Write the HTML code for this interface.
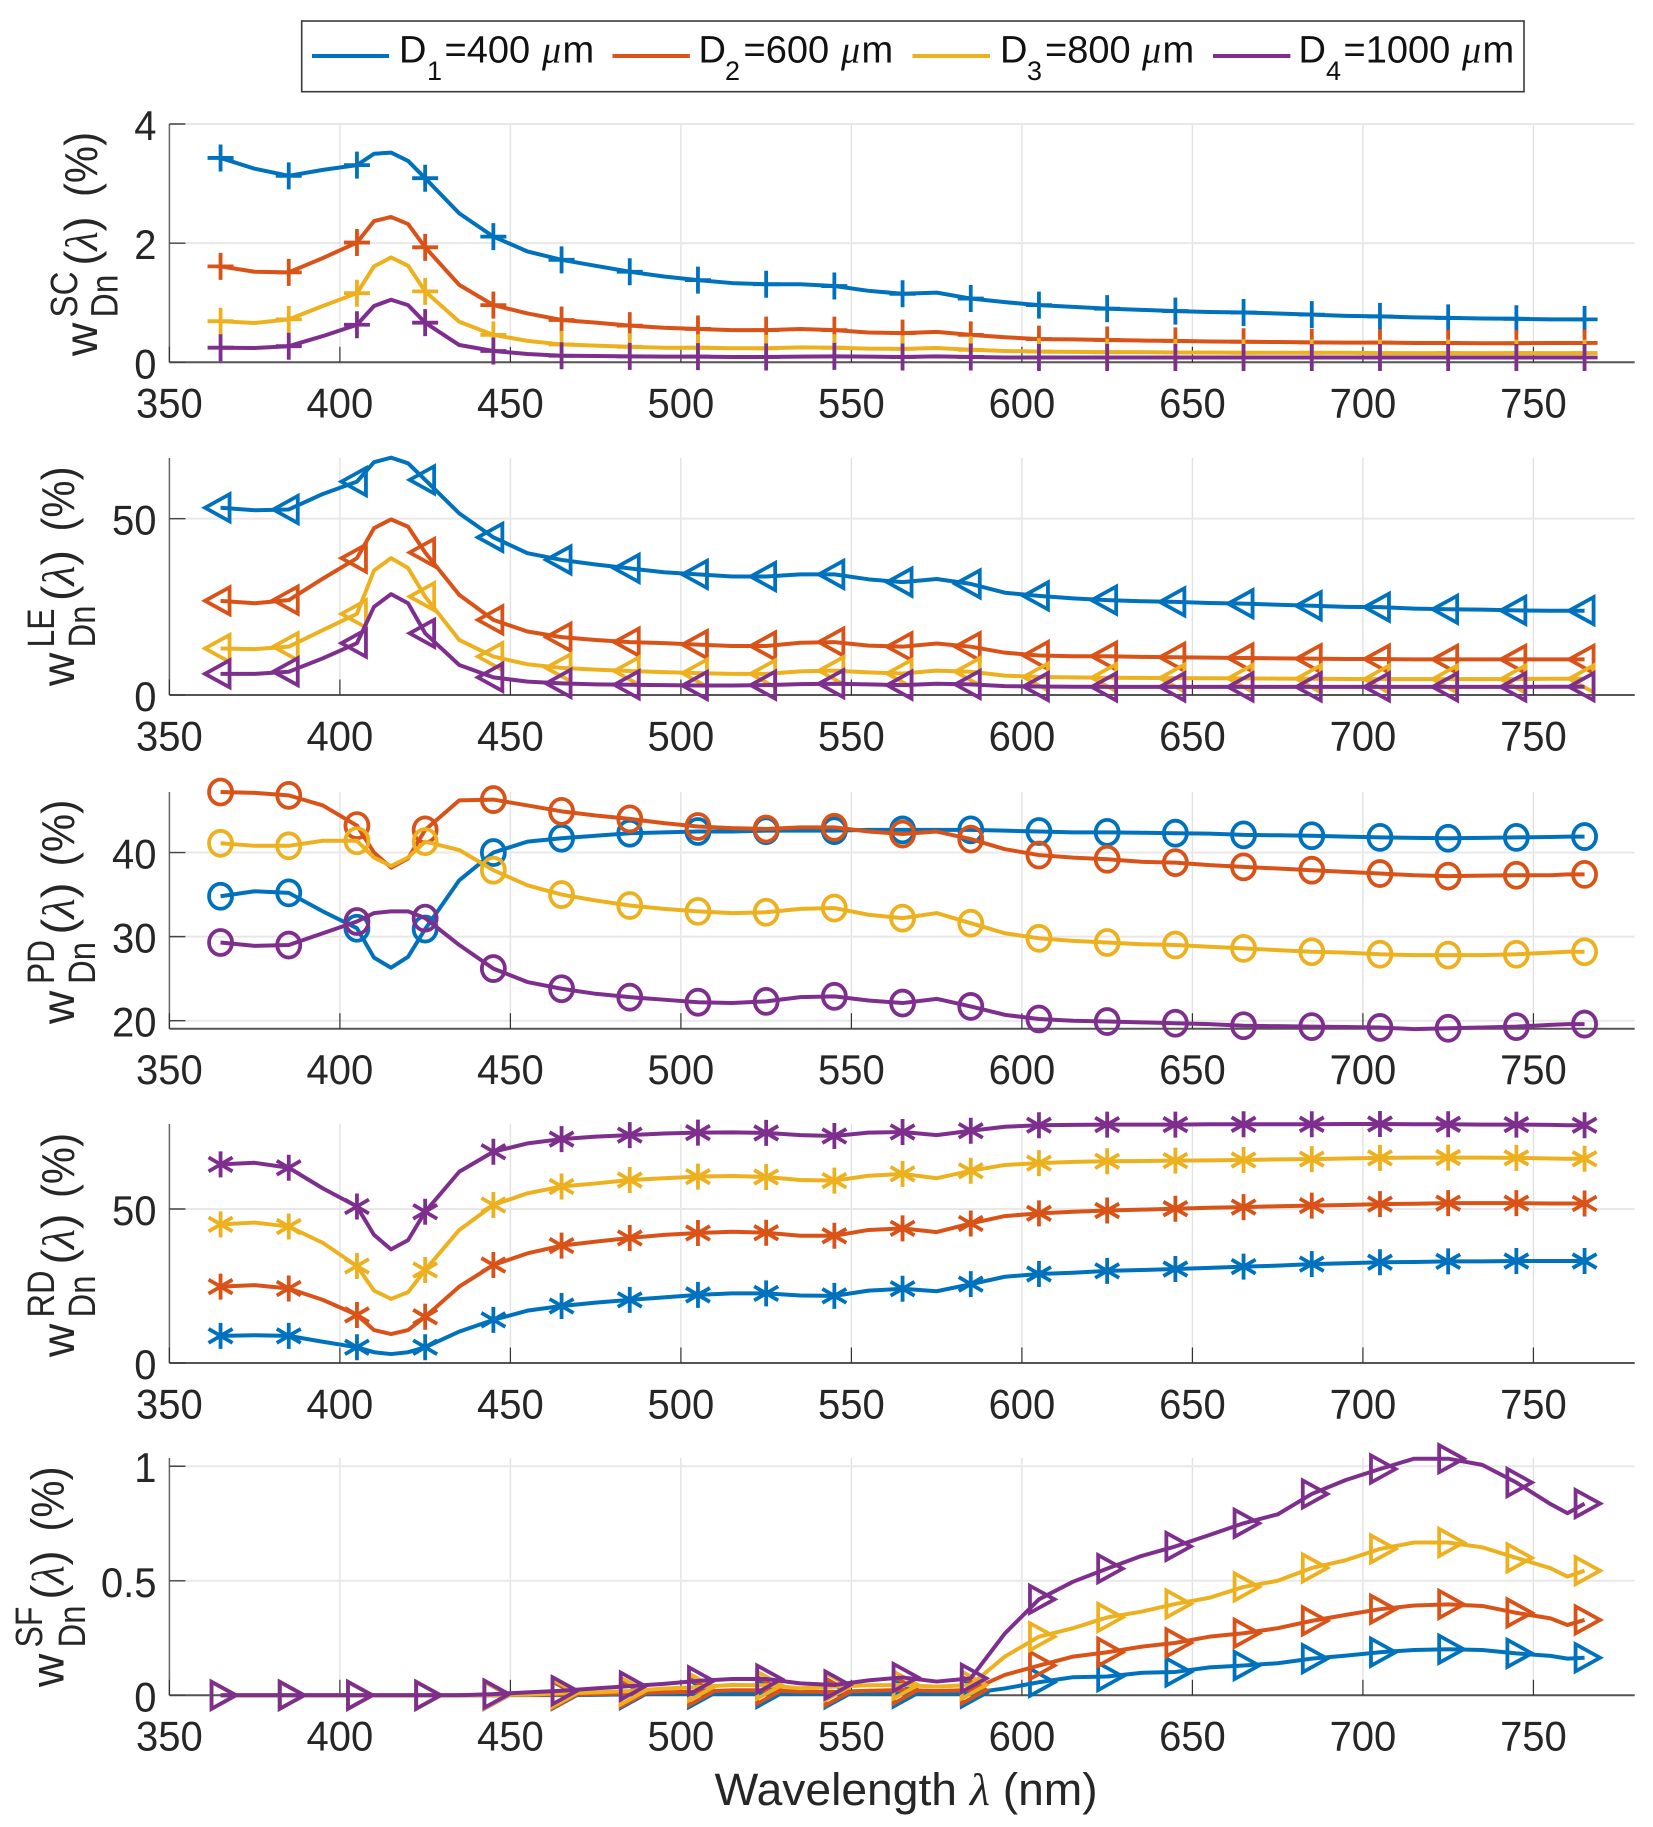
<!DOCTYPE html>
<html lang="en">
<head>
<meta charset="utf-8">
<title>Spectral weights by diameter</title>
<style>
html,body{margin:0;padding:0;background:#fff;}
svg{display:block;font-family:"Liberation Sans",sans-serif;}
.tick{font-size:41.5px;fill:#262626;}
.lab{fill:#262626;}
.lam{font-family:"Liberation Serif",serif;font-style:italic;}
.leg{font-size:38px;fill:#111;}
.sub{font-size:27px;fill:#111;}
</style>
</head>
<body>
<svg id="chart" xmlns="http://www.w3.org/2000/svg" width="1653" height="1827" viewBox="0 0 1653 1827">
<rect x="0" y="0" width="1653" height="1827" fill="#fff"/>
<g id="panels"></g>

<g class="lab">
<text transform="translate(97,356) rotate(-90)" font-size="46">w</text>
<text transform="translate(77,317.5) rotate(-90)" font-size="38" textLength="46" lengthAdjust="spacingAndGlyphs">SC</text>
<text transform="translate(117.5,317.5) rotate(-90)" font-size="38" textLength="43" lengthAdjust="spacingAndGlyphs">Dn</text>
<text transform="translate(97,265.5) rotate(-90)" font-size="46" textLength="49" lengthAdjust="spacingAndGlyphs">(<tspan class="lam">λ</tspan>)</text>
<text transform="translate(97,197) rotate(-90)" font-size="46" textLength="65" lengthAdjust="spacingAndGlyphs">(%)</text>
</g>
<g class="lab">
<text transform="translate(74,686) rotate(-90)" font-size="46">w</text>
<text transform="translate(54,647.5) rotate(-90)" font-size="38" textLength="39" lengthAdjust="spacingAndGlyphs">LE</text>
<text transform="translate(95,647.5) rotate(-90)" font-size="38" textLength="42" lengthAdjust="spacingAndGlyphs">Dn</text>
<text transform="translate(74,601) rotate(-90)" font-size="46" textLength="51" lengthAdjust="spacingAndGlyphs">(<tspan class="lam">λ</tspan>)</text>
<text transform="translate(74,531.5) rotate(-90)" font-size="46" textLength="65" lengthAdjust="spacingAndGlyphs">(%)</text>
</g>
<g class="lab">
<text transform="translate(74,1024) rotate(-90)" font-size="46">w</text>
<text transform="translate(54,984) rotate(-90)" font-size="38" textLength="44" lengthAdjust="spacingAndGlyphs">PD</text>
<text transform="translate(95,984) rotate(-90)" font-size="38" textLength="42" lengthAdjust="spacingAndGlyphs">Dn</text>
<text transform="translate(74,934.5) rotate(-90)" font-size="46" textLength="52" lengthAdjust="spacingAndGlyphs">(<tspan class="lam">λ</tspan>)</text>
<text transform="translate(74,866.5) rotate(-90)" font-size="46" textLength="67" lengthAdjust="spacingAndGlyphs">(%)</text>
</g>
<g class="lab">
<text transform="translate(74,1357) rotate(-90)" font-size="46">w</text>
<text transform="translate(54,1317.5) rotate(-90)" font-size="38" textLength="47" lengthAdjust="spacingAndGlyphs">RD</text>
<text transform="translate(95,1317.5) rotate(-90)" font-size="38" textLength="42" lengthAdjust="spacingAndGlyphs">Dn</text>
<text transform="translate(74,1264.5) rotate(-90)" font-size="46" textLength="51" lengthAdjust="spacingAndGlyphs">(<tspan class="lam">λ</tspan>)</text>
<text transform="translate(74,1198) rotate(-90)" font-size="46" textLength="65" lengthAdjust="spacingAndGlyphs">(%)</text>
</g>
<g class="lab">
<text transform="translate(63.5,1687) rotate(-90)" font-size="46">w</text>
<text transform="translate(42,1647.5) rotate(-90)" font-size="38" textLength="41" lengthAdjust="spacingAndGlyphs">SF</text>
<text transform="translate(85,1647.5) rotate(-90)" font-size="38" textLength="42" lengthAdjust="spacingAndGlyphs">Dn</text>
<text transform="translate(63.5,1599.5) rotate(-90)" font-size="46" textLength="49" lengthAdjust="spacingAndGlyphs">(<tspan class="lam">λ</tspan>)</text>
<text transform="translate(63.5,1531.5) rotate(-90)" font-size="46" textLength="65" lengthAdjust="spacingAndGlyphs">(%)</text>
</g>

<text class="lab" x="714.7" y="1805" font-size="45" textLength="383" lengthAdjust="spacingAndGlyphs">Wavelength <tspan class="lam">λ</tspan> (nm)</text>

<g>
<rect x="301.7" y="21" width="1222.3" height="70.7" fill="#fff" stroke="#3a3a3a" stroke-width="1.6"/>
<g>
<line x1="312" x2="389" y1="56" y2="56" stroke="#0072BD" stroke-width="4"/>
<text class="leg" y="62.4"><tspan x="399">D</tspan><tspan class="sub" x="427" y="80">1</tspan><tspan x="444.5" y="62.4">=400</tspan><tspan class="lam" x="542">μ</tspan><tspan x="562.5">m</tspan></text>
</g>
<g>
<line x1="612.5" x2="689.8" y1="56" y2="56" stroke="#D95319" stroke-width="4"/>
<text class="leg" y="62.4"><tspan x="698.5">D</tspan><tspan class="sub" x="725" y="80">2</tspan><tspan x="743.5" y="62.4">=600</tspan><tspan class="lam" x="841">μ</tspan><tspan x="861.5">m</tspan></text>
</g>
<g>
<line x1="912.4" x2="990" y1="56" y2="56" stroke="#EDB120" stroke-width="4"/>
<text class="leg" y="62.4"><tspan x="1000">D</tspan><tspan class="sub" x="1027" y="80">3</tspan><tspan x="1045" y="62.4">=800</tspan><tspan class="lam" x="1142">μ</tspan><tspan x="1162.5">m</tspan></text>
</g>
<g>
<line x1="1213" x2="1290.4" y1="56" y2="56" stroke="#7E2F8E" stroke-width="4"/>
<text class="leg" y="62.4"><tspan x="1298.5">D</tspan><tspan class="sub" x="1326" y="80">4</tspan><tspan x="1343.5" y="62.4">=1000</tspan><tspan class="lam" x="1462">μ</tspan><tspan x="1482.5">m</tspan></text>
</g>
</g>
</svg>

<script>
const wavelengths = [365,375,385,395,405,410,415,420,425,435,445,455,465,475,485,495,505,515,525,535,545,555,565,575,585,595,605,615,625,635,645,655,665,675,685,695,705,715,725,735,745,755,760,765];
const markerStart = 365;
const markerStep = 20;
const xTicks = [350,400,450,500,550,600,650,700,750];

const seriesNames = ['d1','d2','d3','d4'];
const seriesColors = ['#0072BD','#D95319','#EDB120','#7E2F8E'];

const scD1 = [3.43,3.25,3.13,3.23,3.31,3.50,3.52,3.38,3.09,2.50,2.11,1.86,1.72,1.62,1.52,1.44,1.38,1.33,1.31,1.31,1.28,1.20,1.15,1.17,1.07,1.01,.96,.93,.90,.88,.86,.845,.835,.82,.80,.78,.77,.755,.745,.735,.73,.72,.72,.72];
const scD2 = [1.61,1.52,1.51,1.75,2.01,2.37,2.44,2.32,1.93,1.30,.96,.82,.71,.665,.615,.58,.56,.54,.54,.56,.54,.50,.49,.51,.46,.42,.39,.385,.375,.365,.36,.35,.345,.34,.335,.33,.33,.325,.325,.32,.32,.325,.325,.325];
const scD3 = [.69,.66,.72,.945,1.16,1.61,1.76,1.62,1.19,.68,.46,.36,.30,.28,.26,.245,.245,.235,.235,.25,.245,.23,.225,.24,.21,.19,.18,.175,.17,.17,.165,.165,.16,.16,.16,.16,.155,.155,.155,.155,.155,.155,.155,.155];
const scD4 = [.245,.24,.27,.44,.63,.945,1.05,.96,.665,.29,.19,.14,.11,.105,.10,.095,.095,.09,.09,.095,.10,.095,.09,.10,.09,.08,.08,.08,.08,.08,.08,.08,.08,.08,.08,.08,.08,.08,.08,.08,.08,.08,.08,.08];

const leD1 = [53.1,52.4,52.6,57,60.5,66,67.3,65.7,61,51.5,44.7,40.2,38.3,37,35.9,34.8,34.2,33.6,33.6,34.2,34.2,32.8,32,32.9,31.5,29,28.1,27.4,26.9,26.6,26.4,26.1,25.9,25.6,25.3,25,24.9,24.5,24.3,24.2,24,23.9,23.9,23.9];
const leD2 = [26.7,26,26.9,33,38.8,47.3,49.8,47.7,40.4,28.4,21.3,18,16.4,15.6,15,14.7,14.3,13.9,13.9,14.8,15,14,13.7,14.6,13.7,12,11.2,11,11,10.8,10.7,10.6,10.5,10.4,10.3,10.2,10.2,10.1,10.1,10.1,10.1,10.1,10.1,10.1];
const leD3 = [13.2,13,13.7,18.4,23,35.3,38.8,36,27.9,15.6,10.9,8.7,7.7,7.2,6.8,6.5,6.2,6,6,6.7,6.9,6.4,6.1,6.9,6.6,5.5,5.1,5,4.9,4.85,4.8,4.75,4.7,4.65,4.6,4.55,4.5,4.5,4.5,4.5,4.5,4.6,4.6,4.6];
const leD4 = [6,6,6.6,10.4,14.7,25,28.6,26,17.5,8.5,5,3.8,3.3,3,2.9,2.8,2.7,2.7,2.8,3.1,3.2,3,2.8,3.2,3,2.5,2.4,2.35,2.3,2.3,2.3,2.3,2.3,2.3,2.3,2.3,2.3,2.3,2.3,2.3,2.3,2.35,2.35,2.35];

const pdD1 = [34.8,35.4,35.2,33,31,27.5,26.3,27.6,30.9,36.7,40,41.3,41.7,42,42.3,42.4,42.5,42.5,42.6,42.6,42.6,42.7,42.7,42.7,42.7,42.6,42.5,42.4,42.4,42.35,42.3,42.25,42.1,42.05,42,41.9,41.8,41.75,41.7,41.75,41.8,41.85,41.9,41.9];
const pdD2 = [47.2,47.1,46.8,45.6,43.2,40,38.2,39.3,42.7,46.2,46.3,45.6,44.9,44.4,44,43.5,43.1,42.9,42.8,43,43,42.5,42.2,42.5,41.6,40.4,39.7,39.4,39.2,38.9,38.8,38.5,38.3,38.1,37.9,37.7,37.5,37.3,37.2,37.25,37.3,37.3,37.4,37.4];
const pdD3 = [41.1,40.8,40.8,41.4,41.4,39.4,38.4,39.4,41.3,40.3,37.9,36.1,35,34.3,33.7,33.3,33,32.8,32.9,33.3,33.4,32.6,32.2,32.8,31.6,30.4,29.8,29.5,29.3,29.1,29,28.8,28.6,28.4,28.2,28.1,27.9,27.8,27.8,27.8,27.9,28.1,28.2,28.2];
const pdD4 = [29.3,28.9,29,30.4,31.8,32.8,33,33,32.2,29,26.2,24.6,23.8,23.2,22.8,22.5,22.2,22.1,22.3,22.8,22.9,22.4,22.1,22.6,21.7,20.7,20.2,20,19.9,19.8,19.7,19.6,19.4,19.35,19.3,19.25,19.2,19,19.1,19.2,19.3,19.5,19.6,19.6];

const rdD1 = [8.8,9,8.8,6.9,5.1,3.5,2.9,3.5,5.1,10.2,14,17,18.5,19.6,20.5,21.3,22.1,22.6,22.6,21.9,21.8,23.5,24.1,23.3,25.6,28,28.9,29.3,29.9,30.2,30.5,30.9,31.3,31.6,32.1,32.4,32.7,32.8,33,33,33.1,33.1,33.1,33.1];
const rdD2 = [24.8,25.3,24.2,20.5,15.6,10.7,9.4,10.7,15,24.8,31.8,35.6,38.1,39.4,40.6,41.6,42.2,42.6,42.3,41.3,41.3,43.2,43.7,42.5,45.3,47.7,48.6,49.1,49.5,49.8,50.1,50.4,50.6,50.9,51.1,51.3,51.6,51.7,51.9,51.9,51.9,51.8,51.8,51.8];
const rdD3 = [45,45.6,44.3,39,31.5,23.5,20.8,23,30.2,43.2,51.3,55.1,57.3,58.3,59.4,60,60.5,60.7,60.4,59.4,59.2,60.8,61.4,60,62.4,64.3,64.9,65.3,65.5,65.6,65.7,65.8,65.9,66.1,66.2,66.4,66.6,66.7,66.7,66.7,66.6,66.4,66.3,66.3];
const rdD4 = [64.5,65,63.4,56.7,50.8,41.6,36.9,39.9,49.1,62.1,68.6,71.3,72.7,73.5,74,74.5,74.8,74.9,74.7,74,73.7,74.8,75,74,75.4,76.7,77.2,77.3,77.4,77.4,77.4,77.5,77.5,77.5,77.5,77.6,77.6,77.5,77.5,77.4,77.4,77.3,77.2,77.2];

const sfD1 = [0,0,0,0,0,0,0,0,0,0,.0005,.001,.001,.002,.004,.006,.007,.009,.009,.007,.007,.009,.01,.008,.01,.03,.057,.079,.082,.098,.102,.122,.13,.14,.16,.173,.188,.198,.201,.198,.183,.172,.16,.164];
const sfD2 = [0,0,0,0,0,0,0,0,0,0,.001,.002,.003,.005,.009,.013,.016,.022,.022,.016,.015,.02,.023,.019,.023,.089,.13,.169,.188,.212,.229,.256,.271,.293,.325,.351,.376,.392,.397,.39,.36,.336,.307,.329];
const sfD3 = [0,0,0,0,0,0,0,0,0,0,.002,.003,.009,.013,.019,.029,.036,.045,.044,.031,.038,.044,.045,.038,.045,.169,.256,.293,.34,.365,.399,.426,.473,.50,.556,.59,.639,.667,.667,.646,.60,.555,.518,.544];
const sfD4 = [0,0,0,0,0,0,0,0,0,0,.005,.013,.02,.03,.04,.05,.063,.071,.071,.052,.045,.065,.078,.06,.074,.27,.419,.496,.553,.608,.65,.70,.751,.79,.879,.94,.988,1.033,1.033,1.006,.929,.835,.795,.837];

const scTicks = [0,2,4];
const leTicks = [0,50];
const pdTicks = [20,30,40];
const rdTicks = [0,50];
const sfTicks = [0,0.5,1];

const scYMin = 0, scYMax = 4;
const leYMin = 0, leYMax = 67.2;
const pdYMin = 19.05, pdYMax = 47.2;
const rdYMin = 0, rdYMax = 77.6;
const sfYMin = 0, sfYMax = 1.036;

const SVGNS = 'http://www.w3.org/2000/svg';
const plotLeft = 169.4, plotRight = 1634.7;
const xMin = 350, xMax = 779.7;

function xScale(w){ return plotLeft + (w - xMin) * (plotRight - plotLeft) / (xMax - xMin); }

const panelDefs = [
  {key:'sc', top:124, bottom:362.3, ymin:scYMin, ymax:scYMax, ticks:scTicks, series:[scD1,scD2,scD3,scD4], marker:'plus'},
  {key:'le', top:458, bottom:695, ymin:leYMin, ymax:leYMax, ticks:leTicks, series:[leD1,leD2,leD3,leD4], marker:'tri-left'},
  {key:'pd', top:792, bottom:1028.7, ymin:pdYMin, ymax:pdYMax, ticks:pdTicks, series:[pdD1,pdD2,pdD3,pdD4], marker:'circle'},
  {key:'rd', top:1124, bottom:1363, ymin:rdYMin, ymax:rdYMax, ticks:rdTicks, series:[rdD1,rdD2,rdD3,rdD4], marker:'star'},
  {key:'sf', top:1458, bottom:1695.3, ymin:sfYMin, ymax:sfYMax, ticks:sfTicks, series:[sfD1,sfD2,sfD3,sfD4], marker:'tri-right'}
];

const markerPaths = {
  'plus':'M-13,0H13M0,-13.5V13.5',
  'tri-left':'M-15.5,0L9,-13.5L9,13.5Z',
  'tri-right':'M15.5,0L-9,-13.5L-9,13.5Z',
  'star':'M0,-13V13M-12,-7L12,7M-12,7L12,-7',
  'circle':'M-11.5,0A11.5,12.5 0 1,1 11.5,0A11.5,12.5 0 1,1 -11.5,0Z'
};

function svgEl(tag, attrs, parent){
  const el = document.createElementNS(SVGNS, tag);
  for (const k in attrs) el.setAttribute(k, attrs[k]);
  parent.appendChild(el);
  return el;
}

function tickTextWidth(str){
  let u = 0;
  for (const c of str) u += (c === '.') ? 0.278 : 0.556;
  return (u * 40).toFixed(1);
}

const root = document.getElementById('panels');

panelDefs.forEach(function(p){
  const yScale = function(v){ return p.bottom - (v - p.ymin) * (p.bottom - p.top) / (p.ymax - p.ymin); };

  const g = svgEl('g', {}, root);
  
  

  xTicks.forEach(function(t){
    if (t === xMin) return;
    const gl = svgEl('line', {x1:xScale(t), x2:xScale(t), y1:p.top, y2:p.bottom, stroke:'#e2e2e2', 'stroke-width':1.4}, g);
    
    
  });
  p.ticks.forEach(function(t){
    const gl = svgEl('line', {x1:plotLeft, x2:plotRight, y1:yScale(t), y2:yScale(t), stroke:'#e8e8e8', 'stroke-width':2}, g);
    
    
  });

  const xAxis = svgEl('line', {x1:plotLeft, x2:plotRight, y1:p.bottom, y2:p.bottom, stroke:'#555', 'stroke-width':2}, g);
  
  
  const yAxis = svgEl('line', {x1:plotLeft, x2:plotLeft, y1:p.top, y2:p.bottom, stroke:'#666', 'stroke-width':1.5}, g);
  
  

  xTicks.forEach(function(t){
    const tk = svgEl('line', {x1:xScale(t), x2:xScale(t), y1:p.bottom, y2:p.bottom-15.5, stroke:'#333', 'stroke-width':1.2}, g);
    
    
    const lb = svgEl('text', {x:xScale(t), y:p.bottom+55.3, 'text-anchor':'middle', class:'tick', textLength:tickTextWidth(String(t)), lengthAdjust:'spacingAndGlyphs'}, g);
    
    
    lb.textContent = String(t);
  });
  p.ticks.forEach(function(t){
    const tk = svgEl('line', {x1:plotLeft, x2:plotLeft+16, y1:yScale(t), y2:yScale(t), stroke:'#444', 'stroke-width':1.4}, g);
    
    
    const lb = svgEl('text', {x:156.5, y:yScale(t)+16, 'text-anchor':'end', class:'tick', textLength:tickTextWidth(String(t)), lengthAdjust:'spacingAndGlyphs'}, g);
    
    
    lb.textContent = String(t);
  });

  p.series.forEach(function(values, s){
    const color = seriesColors[s];
    const sg = svgEl('g', {}, g);
    
    

    const pts = values.map(function(v, i){ return xScale(wavelengths[i]).toFixed(2) + ',' + yScale(v).toFixed(2); }).join(' ');
    const line = svgEl('polyline', {points:pts, fill:'none', stroke:color, 'stroke-width':4, 'stroke-linejoin':'round'}, sg);
    
    

    values.forEach(function(v, i){
      const w = wavelengths[i];
      if ((w - markerStart) % markerStep !== 0) return;
      const m = svgEl('path', {d:markerPaths[p.marker], fill:'none', stroke:color, 'stroke-width':3.8, 'stroke-linejoin':'miter', 'stroke-miterlimit':6, transform:'translate(' + xScale(w).toFixed(2) + ',' + yScale(v).toFixed(2) + ')'}, sg);
      
      
    });
  });
});
</script>
</body>
</html>
